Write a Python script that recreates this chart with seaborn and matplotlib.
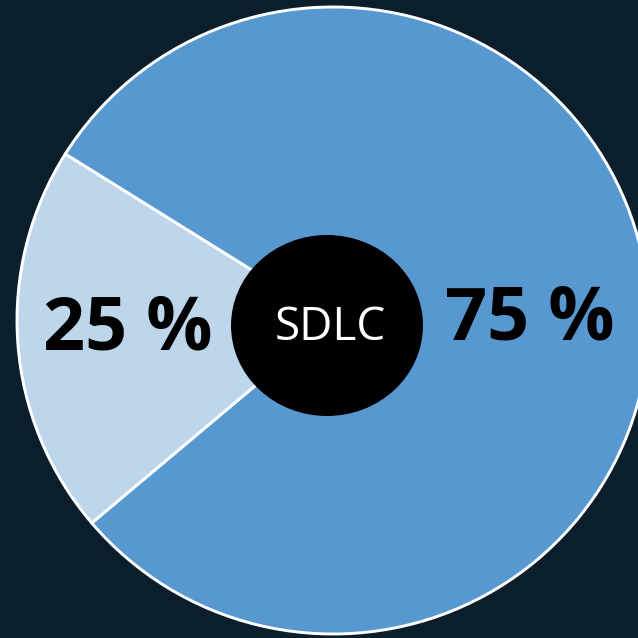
import matplotlib
matplotlib.use("Agg")
import matplotlib.pyplot as plt
from matplotlib.patches import Ellipse
import seaborn as sns

# data
categories = ["minor", "major"]
slice_shares = [20.1, 79.9]          # share of the circle as drawn
label_texts = ["25 %", "75 %"]
center_text = "SDLC"
slice_colors = ["#bdd6ec", "#5898d0"]
bg_color = "#0a1e2b"

sns.set_style("white")
plt.rcParams["font.family"] = ["Open Sans", "DejaVu Sans"]

fig = plt.figure(figsize=(6.38, 6.38), dpi=100, facecolor=bg_color)
ax = fig.add_axes([0, 0, 1, 1])
ax.set_facecolor(bg_color)

RX, RY = 316.0, 313.5
cx, cy = 333.0, 320.5
ax.pie(slice_shares, colors=slice_colors, startangle=147.9, counterclock=True,
       radius=1.0, wedgeprops=dict(edgecolor="white", linewidth=2.1))
ax.set_aspect("auto")
ax.set_xlim(-cx / RX, (638 - cx) / RX)
ax.set_ylim(-(638 - cy) / RY, cy / RY)
ax.axis("off")

def px(x, y):
    return (x - cx) / RX, (cy - y) / RY

# center disc
ex, ey = px(327, 325.5)
ax.add_patch(Ellipse((ex, ey), 192 / RX, 181 / RY, facecolor="black",
                     edgecolor="none", zorder=5))
tx, ty = px(330, 340)
ax.text(tx, ty, center_text, color="white", fontsize=33, ha="center", va="baseline",
        zorder=6)

label_pos = [(127.5, 350), (530, 340)]
for txt, (lx, ly) in zip(label_texts, label_pos):
    x, y = px(lx, ly)
    ax.text(x, y, txt, color="black", fontsize=53, fontweight="bold",
            ha="center", va="baseline", zorder=6)

fig.savefig("out.png", dpi=100, facecolor=bg_color)
